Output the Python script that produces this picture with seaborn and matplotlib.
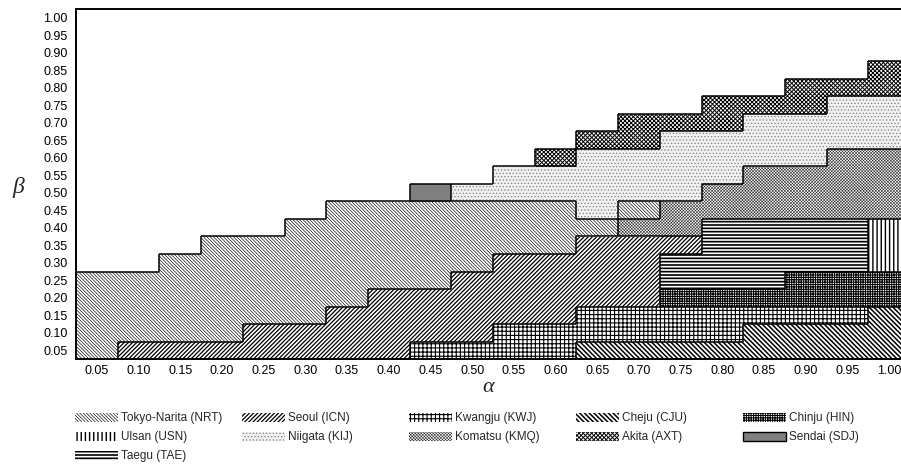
import numpy as np
import pandas as pd
import matplotlib
matplotlib.use("Agg")
import matplotlib.pyplot as plt
from matplotlib.patches import Rectangle
from matplotlib.collections import LineCollection
import seaborn as sns

# eje alfa (columnas) y eje beta (filas)
alpha = [0.05, 0.10, 0.15, 0.20, 0.25, 0.30, 0.35, 0.40, 0.45, 0.50,
         0.55, 0.60, 0.65, 0.70, 0.75, 0.80, 0.85, 0.90, 0.95, 1.00]
beta = [0.05, 0.10, 0.15, 0.20, 0.25, 0.30, 0.35, 0.40, 0.45, 0.50,
        0.55, 0.60, 0.65, 0.70, 0.75, 0.80, 0.85, 0.90, 0.95, 1.00]

# numero de celdas (pasos de 0.05 en beta) de cada aeropuerto por columna alfa
CJU = [0, 0, 0, 0, 0, 0, 0, 0, 0, 0, 0, 0, 1, 1, 1, 1, 2, 2, 2, 3]
KWJ = [0, 0, 0, 0, 0, 0, 0, 0, 1, 1, 2, 2, 2, 2, 2, 2, 1, 1, 1, 0]
HIN = [0, 0, 0, 0, 0, 0, 0, 0, 0, 0, 0, 0, 0, 0, 1, 1, 1, 2, 2, 2]
TAE = [0, 0, 0, 0, 0, 0, 0, 0, 0, 0, 0, 0, 0, 0, 2, 4, 4, 3, 3, 0]
USN = [0, 0, 0, 0, 0, 0, 0, 0, 0, 0, 0, 0, 0, 0, 0, 0, 0, 0, 0, 3]
ICN = [0, 1, 1, 1, 2, 2, 3, 4, 3, 4, 4, 4, 4, 4, 1, 0, 0, 0, 0, 0]
KMQ = [0, 0, 0, 0, 0, 0, 0, 0, 0, 0, 0, 0, 0, 1, 2, 2, 3, 3, 4, 4]
NRT = [5, 4, 5, 6, 5, 6, 6, 5, 5, 4, 3, 3, 1, 1, 0, 0, 0, 0, 0, 0]
KIJ = [0, 0, 0, 0, 0, 0, 0, 0, 0, 1, 2, 2, 4, 3, 4, 3, 3, 3, 3, 3]
SDJ = [0, 0, 0, 0, 0, 0, 0, 0, 1, 0, 0, 0, 0, 0, 0, 0, 0, 0, 0, 0]
AXT = [0, 0, 0, 0, 0, 0, 0, 0, 0, 0, 0, 1, 1, 2, 1, 2, 1, 2, 1, 2]

# orden de apilado, de abajo hacia arriba
airports = ["CJU", "KWJ", "HIN", "TAE", "USN", "ICN", "KMQ", "NRT", "KIJ", "SDJ", "AXT"]
cells = {"CJU": CJU, "KWJ": KWJ, "HIN": HIN, "TAE": TAE, "USN": USN, "ICN": ICN,
         "KMQ": KMQ, "NRT": NRT, "KIJ": KIJ, "SDJ": SDJ, "AXT": AXT}
names = {"NRT": "Tokyo-Narita (NRT)", "ICN": "Seoul (ICN)", "KWJ": "Kwangju (KWJ)",
         "CJU": "Cheju (CJU)", "HIN": "Chinju (HIN)", "USN": "Ulsan (USN)",
         "KIJ": "Niigata (KIJ)", "KMQ": "Komatsu (KMQ)", "AXT": "Akita (AXT)",
         "SDJ": "Sendai (SDJ)", "TAE": "Taegu (TAE)"}
legend_order = ["NRT", "ICN", "KWJ", "CJU", "HIN",
                "USN", "KIJ", "KMQ", "AXT", "SDJ",
                "TAE"]

# estilo: (relleno, trama, color de trama, grosor de trama)
styles = {
    "NRT": ("white", "\\" * 10, "black", 0.45),
    "ICN": ("white", "/" * 8, "black", 0.9),
    "KWJ": ("white", "+" * 4, "black", 0.8),
    "CJU": ("white", "\\" * 7, "black", 1.1),
    "HIN": ("white", "+" * 7, "black", 0.75),
    "USN": ("white", "|" * 4, "black", 1.0),
    "KIJ": ("#f0f0f0", "." * 5, "#808080", 0.5),
    "KMQ": ("white", "x" * 11, "#333333", 0.4),
    "AXT": ("white", "x" * 8, "black", 0.7),
    "SDJ": ("#808080", "", "black", 0.5),
    "TAE": ("white", "-" * 5, "black", 1.2),
}

df = pd.DataFrame(
    [(a, code, n) for code in airports for a, n in zip(alpha, cells[code])],
    columns=["alpha", "airport", "cells"],
)
edges = [a - 0.025 for a in alpha] + [alpha[-1] + 0.025]

sns.set_style("white")
plt.rcParams["font.family"] = ["Liberation Sans", "DejaVu Sans"]

fig = plt.figure(figsize=(9.01, 4.68), dpi=100)
ax = fig.add_axes([76 / 901, 109 / 468, 834 / 901, 350 / 468])

pal = dict(zip(airports, sns.color_palette("husl", len(airports))))
sns.histplot(data=df, x="alpha", weights="cells", hue="airport",
             hue_order=airports[::-1], multiple="stack", bins=edges,
             palette=pal, alpha=1, linewidth=0, legend=False, ax=ax)

# reemplazar colores por tramas
for p in ax.patches:
    rgb = np.array(p.get_facecolor()[:3])
    code = min(pal, key=lambda c: np.abs(np.array(pal[c]) - rgb).sum())
    fc, hatch, hc, hlw = styles[code]
    p.set_facecolor(fc)
    p.set_hatch(hatch)
    p.set_edgecolor(hc)
    p.set_linewidth(0)
    if hasattr(p, "set_hatch_linewidth"):
        p.set_hatch_linewidth(hlw)

# contornos de las regiones
grid = np.full((len(beta), len(alpha)), -1)
for i in range(len(alpha)):
    j = 0
    for k, code in enumerate(airports):
        n = cells[code][i]
        grid[j:j + n, i] = k
        j += n
segs = []
nr, nc = grid.shape
for i in range(nc):
    for j in range(nr):
        up = grid[j + 1, i] if j + 1 < nr else -1
        if grid[j, i] != up:
            segs.append([(edges[i], j + 1), (edges[i + 1], j + 1)])
        right = grid[j, i + 1] if i + 1 < nc else -1
        if grid[j, i] != right:
            segs.append([(edges[i + 1], j), (edges[i + 1], j + 1)])
ax.add_collection(LineCollection(segs, colors="black", linewidths=1.1, zorder=3))

ax.set_xlim(edges[0], edges[-1])
ax.set_ylim(0, len(beta))
ax.set_xticks(alpha)
ax.set_xticklabels([f"{a:.2f}" for a in alpha])
ax.set_yticks(np.arange(len(beta)) + 0.5)
ax.set_yticklabels([f"{b:.2f}" for b in beta])
ax.tick_params(length=0, labelsize=9, colors="black")
ax.tick_params(axis="y", pad=6)
ax.tick_params(axis="x", pad=4)
ax.set_xlabel("")
ax.set_ylabel("")
for s in ax.spines.values():
    s.set_color("black")
    s.set_linewidth(1.4)
    s.set_zorder(4)

fig.text(18 / 901, 1 - 187 / 468, "β", fontsize=17, style="italic",
         family="Liberation Serif", ha="center", va="center")
fig.text(488 / 901, 1 - 388 / 468, "α", fontsize=16, style="italic",
         family="Liberation Serif", ha="center", va="center")

# leyenda
for k, code in enumerate(legend_order):
    row, col = divmod(k, 5)
    x0 = 75 + 167 * col
    y0 = 413 + 19 * row
    fc, hatch, hc, hlw = styles[code]
    r = Rectangle((x0 / 901, 1 - (y0 + 9) / 468), 43 / 901, 9 / 468,
                  transform=fig.transFigure, facecolor=fc, hatch=hatch,
                  edgecolor=hc, linewidth=0)
    if hasattr(r, "set_hatch_linewidth"):
        r.set_hatch_linewidth(hlw)
    if code == "SDJ":
        r.set_linewidth(1.0)
        r.set_edgecolor("black")
    fig.patches.append(r)
    fig.text((x0 + 46) / 901, 1 - (y0 + 5) / 468, names[code],
             fontsize=8.5, ha="left", va="center")

fig.savefig("out.png", dpi=100)
